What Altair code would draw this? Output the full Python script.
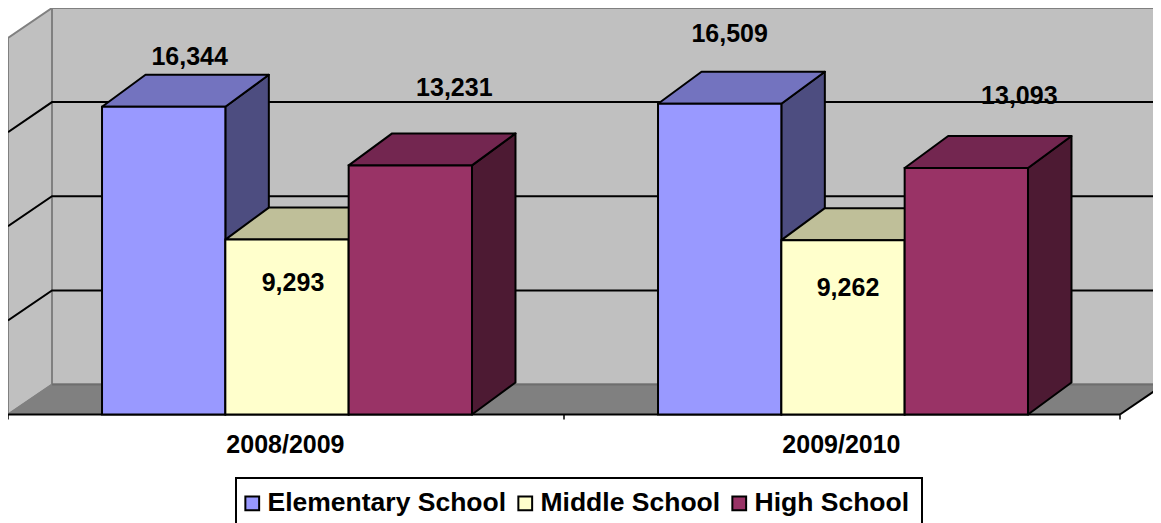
import altair as alt
import pandas as pd

# ---- data ----
categories = ["2008/2009", "2009/2010"]
series = ["Elementary School", "Middle School", "High School"]
values = {
    "Elementary School": [16344, 16509],
    "Middle School": [9293, 9262],
    "High School": [13231, 13093],
}
gridlines = [5000, 10000, 15000]
wall_top = 20000

# ---- styles ----
front_colors = ["#9999FF", "#FFFFCC", "#993366"]
top_colors = ["#7373BF", "#BFBF99", "#732650"]
side_colors = ["#4D4D80", "#808066", "#4D1A33"]
WALL = "#C0C0C0"
FLOOR = "#808080"
EDGE = "#808080"
FONT = "Liberation Sans"
LINE = 2

# ---- layout: x runs in category units, y in data units ----
W, H = 1145, 515
X_MAX = W / 556
Y_MIN, Y_MAX = -5760, 21592
PX_X = X_MAX / W
PX_Y = (Y_MAX - Y_MIN) / H
DX = 44 * PX_X          # oblique depth of the walls and floor
DY = 30 * PX_Y
BAR_DX = 43.5 * PX_X    # oblique depth of the bars
BAR_DY = 32 * PX_Y
BAR_W = 0.2218
BAR_START = 0.1691
# label shift from the centre of a bar's front top edge, in px (right, up)
label_shift = {
    ("Elementary School", 0): (26, 50), ("Middle School", 0): (6, -43), ("High School", 0): (44, 77),
    ("Elementary School", 1): (10, 70), ("Middle School", 1): (5, -48), ("High School", 1): (53, 72),
}

bars, sides, tops, labels = [], [], [], []
for c, cat in enumerate(categories):
    for s, name in enumerate(series):
        v = values[name][c]
        x0 = c + BAR_START + s * BAR_W
        x1 = x0 + BAR_W
        key = f"{cat}-{name}"
        bars.append(dict(series=name, x=x0, x2=x1, y=0, y2=v))
        sides += [
            dict(bar=key, fill=side_colors[s], x=x1, y=0, y2=v),
            dict(bar=key, fill=side_colors[s], x=x1 + BAR_DX, y=BAR_DY, y2=v + BAR_DY),
        ]
        tops += [
            dict(bar=key, fill=top_colors[s], y=v, x=x0, x2=x1),
            dict(bar=key, fill=top_colors[s], y=v + BAR_DY, x=x0 + BAR_DX, x2=x1 + BAR_DX),
        ]
        sx, sy = label_shift[(name, c)]
        labels.append(dict(text=f"{v:,}", x=(x0 + x1) / 2 + sx * PX_X, y=v + sy * PX_Y))

grid = []
for g in gridlines:
    grid += [dict(g=g, x=0, y=g), dict(g=g, x=DX, y=g + DY), dict(g=g, x=2 + DX, y=g + DY)]

X = alt.X("x:Q", scale=alt.Scale(domain=[0, X_MAX], nice=False, zero=False), axis=None, stack=None)
Y = alt.Y("y:Q", scale=alt.Scale(domain=[Y_MIN, Y_MAX], nice=False, zero=False), axis=None, stack=None)

back_wall = alt.Chart(pd.DataFrame([dict(x=DX, x2=2 + DX, y=DY, y2=wall_top + DY)])).mark_rect(
    fill=WALL, stroke=EDGE, strokeWidth=LINE, clip=True
).encode(X, x2="x2:Q", y=Y, y2="y2:Q")

left_wall = alt.Chart(pd.DataFrame([
    dict(x=0, y=0, y2=wall_top), dict(x=DX, y=DY, y2=wall_top + DY)
])).mark_area(fill=WALL, stroke=EDGE, strokeWidth=LINE).encode(X, y=Y, y2="y2:Q")

floor = alt.Chart(pd.DataFrame([
    dict(y=0, x=0, x2=2), dict(y=DY, x=DX, x2=2 + DX)
])).mark_area(orient="horizontal", fill=FLOOR, clip=True).encode(X, x2="x2:Q", y=Y)

floor_back = alt.Chart(pd.DataFrame([dict(x=DX, x2=2 + DX, y=DY)])).mark_rule(
    color="#6E6E6E", strokeWidth=LINE, clip=True
).encode(X, x2="x2:Q", y=Y)

floor_left = alt.Chart(pd.DataFrame([dict(x=0, y=0), dict(x=DX, y=DY)])).mark_line(
    color=EDGE, strokeWidth=1.5
).encode(X, y=Y)

floor_right = alt.Chart(pd.DataFrame([dict(x=2, y=0), dict(x=2 + DX, y=DY)])).mark_line(
    color="black", strokeWidth=LINE, clip=True
).encode(X, y=Y)

grid_lines = alt.Chart(pd.DataFrame(grid)).mark_line(color="black", strokeWidth=LINE, clip=True).encode(
    X, y=Y, detail="g:N", order="x:Q"
)

axis_line = alt.Chart(pd.DataFrame([dict(x=0, x2=2, y=0)])).mark_rule(color="black", strokeWidth=LINE).encode(
    X, x2="x2:Q", y=Y
)
ticks = alt.Chart(pd.DataFrame([dict(x=i, y=0, y2=-5 * PX_Y) for i in range(3)])).mark_rule(
    color="black", strokeWidth=1.5
).encode(X, y=Y, y2="y2:Q")

side_faces = alt.Chart(pd.DataFrame(sides)).mark_area(stroke="black", strokeWidth=LINE, strokeJoin="round").encode(
    X, y=Y, y2="y2:Q", detail="bar:N", fill=alt.Fill("fill:N", scale=None)
)
top_faces = alt.Chart(pd.DataFrame(tops)).mark_area(
    orient="horizontal", stroke="black", strokeWidth=LINE, strokeJoin="round"
).encode(X, x2="x2:Q", y=Y, detail="bar:N", fill=alt.Fill("fill:N", scale=None))

# legend frame: runs off the bottom of the picture, as in the reference
legend_box = alt.Chart(pd.DataFrame([dict(
    x=(236 - 8) * PX_X, x2=(922 - 8) * PX_X, y=Y_MAX - (478 - 8) * PX_Y, y2=Y_MIN - 20 * PX_Y
)])).mark_rect(fill="white", stroke="black", strokeWidth=LINE, clip=True).encode(
    X, x2="x2:Q", y=Y, y2="y2:Q"
)

front_faces = alt.Chart(pd.DataFrame(bars)).mark_rect(stroke="black", strokeWidth=LINE).encode(
    X, x2="x2:Q", y=Y, y2="y2:Q",
    color=alt.Color(
        "series:N",
        scale=alt.Scale(domain=series, range=front_colors),
        sort=series,
        legend=alt.Legend(
            title=None, orient="none", legendX=231, legendY=482, direction="horizontal", columns=3,
            padding=0,
            symbolType="square", symbolSize=190, symbolStrokeColor="black", symbolStrokeWidth=2,
            symbolOpacity=1, labelFont=FONT, labelFontSize=26.5, labelFontWeight="bold", labelColor="black",
            labelLimit=400, columnPadding=5, labelOffset=2,
        ),
    ),
)

value_labels = alt.Chart(pd.DataFrame(labels)).mark_text(
    font=FONT, fontSize=25, fontWeight="bold", color="black", align="center", baseline="middle"
).encode(X, y=Y, text="text:N")

cat_y = -30.5 * PX_Y
cat_labels = alt.Chart(pd.DataFrame([
    dict(text=cat, x=i + 0.499, y=cat_y) for i, cat in enumerate(categories)
])).mark_text(
    font=FONT, fontSize=25, fontWeight="bold", color="black", align="center", baseline="middle"
).encode(X, y=Y, text="text:N")

chart = alt.layer(
    back_wall, left_wall, floor, floor_back, floor_left, floor_right, grid_lines,
    axis_line, ticks, side_faces, top_faces, legend_box, front_faces, value_labels, cat_labels,
).properties(
    width=W, height=H, padding=0, autosize=alt.AutoSizeParams(type="none"), background="white"
).configure_view(stroke=None)

chart.save("out.html", embed_options={"renderer": "svg", "actions": False})
